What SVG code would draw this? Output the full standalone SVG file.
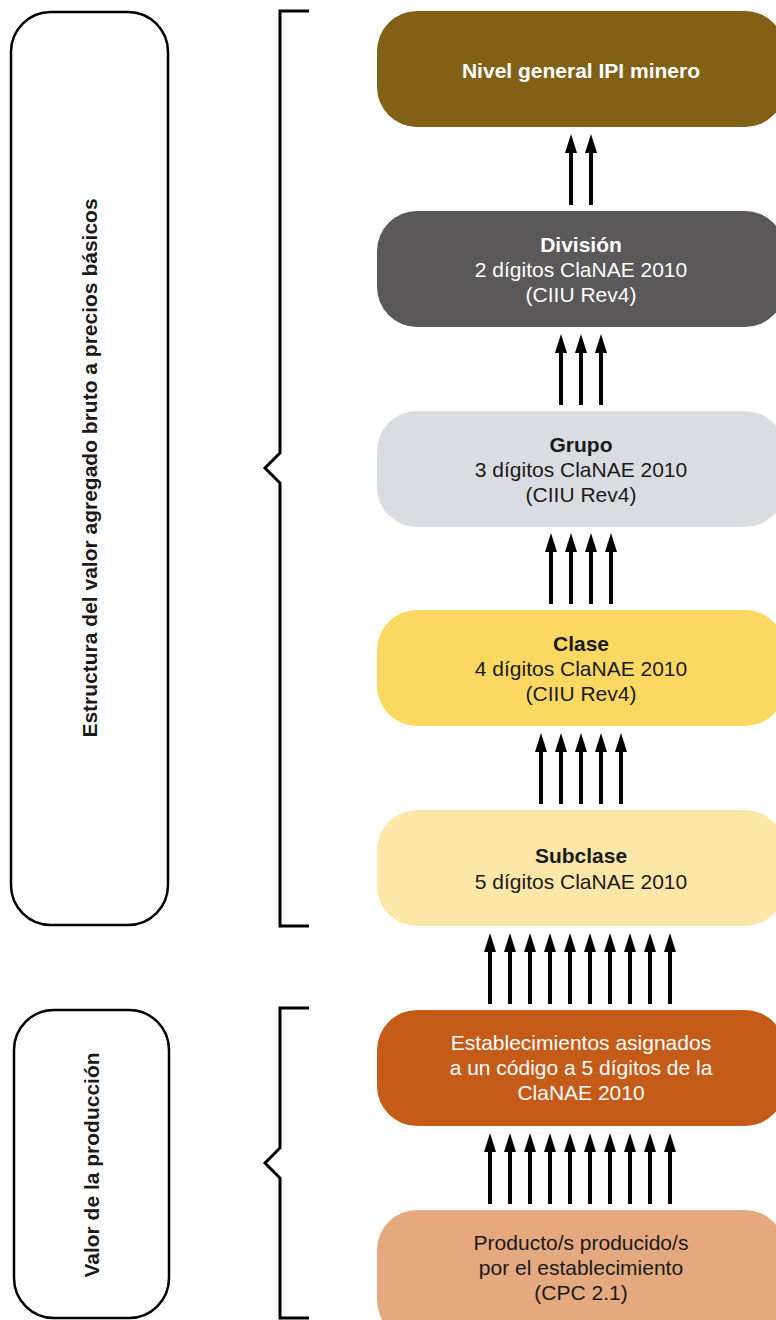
<svg xmlns="http://www.w3.org/2000/svg" width="776" height="1320" viewBox="0 0 776 1320">
<style>
text{font-family:"Liberation Sans",Arial,Helvetica,sans-serif;font-size:21px;text-anchor:middle}
.b{font-weight:bold}
.w{fill:#ffffff}
.k{fill:#1a1a1a}
.frame{fill:none;stroke:#000;stroke-width:2.5}
.br{fill:none;stroke:#000;stroke-width:3}
.ar{stroke:#000;stroke-width:4;marker-end:url(#head)}
</style>
<defs>
<marker id="head" markerUnits="userSpaceOnUse" markerWidth="19" markerHeight="12" refX="0" refY="6" orient="auto" viewBox="0 0 19 12">
<path d="M0,0 L19,6 L0,12 Z" fill="#000"/>
</marker>
</defs>
<rect width="776" height="1320" fill="#fff"/>

<g id="left-estructura">
<rect class="frame" x="11" y="12" width="157" height="913" rx="40"/>
<text class="b k" transform="translate(97,468) rotate(-90)">Estructura del valor agregado bruto a precios básicos</text>
</g>
<g id="left-valor">
<rect class="frame" x="14" y="1010" width="155" height="308" rx="40"/>
<text class="b k" transform="translate(99,1165) rotate(-90)">Valor de la producción</text>
</g>
<g id="brackets">
<path class="br" d="M309,11 H280 V453 L265,468 L280,483 V926 H309"/>
<path class="br" d="M309,1008 H280 V1148 L265,1163 L280,1178 V1318 H309"/>
</g>

<g id="nivel">
<rect x="377" y="11" width="408" height="116" rx="40" fill="#826117"/>
<text class="b w" x="581" y="78">Nivel general IPI minero</text>
</g>
<g id="division">
<rect x="377" y="211" width="408" height="116" rx="40" fill="#5a5859"/>
<text class="b w" x="581" y="252">División</text>
<text class="w" x="581" y="277">2 dígitos ClaNAE 2010</text>
<text class="w" x="581" y="302">(CIIU Rev4)</text>
</g>
<g id="grupo">
<rect x="377" y="411" width="408" height="116" rx="40" fill="#d9dde2"/>
<text class="b k" x="581" y="452">Grupo</text>
<text class="k" x="581" y="477">3 dígitos ClaNAE 2010</text>
<text class="k" x="581" y="502">(CIIU Rev4)</text>
</g>
<g id="clase">
<rect x="377" y="610" width="408" height="116" rx="40" fill="#fad862"/>
<text class="b k" x="581" y="651">Clase</text>
<text class="k" x="581" y="676">4 dígitos ClaNAE 2010</text>
<text class="k" x="581" y="701">(CIIU Rev4)</text>
</g>
<g id="subclase">
<rect x="377" y="810" width="408" height="116" rx="40" fill="#fde7a8"/>
<text class="b k" x="581" y="863">Subclase</text>
<text class="k" x="581" y="889">5 dígitos ClaNAE 2010</text>
</g>
<g id="establecimientos">
<rect x="377" y="1010" width="408" height="116" rx="40" fill="#c55b18"/>
<text class="w" x="581" y="1050">Establecimientos asignados</text>
<text class="w" x="581" y="1075">a un código a 5 dígitos de la</text>
<text class="w" x="581" y="1100">ClaNAE 2010</text>
</g>
<g id="producto">
<rect x="377" y="1210" width="408" height="130" rx="40" fill="#e4a97f"/>
<text class="k" x="581" y="1250">Producto/s producido/s</text>
<text class="k" x="581" y="1275">por el establecimiento</text>
<text class="k" x="581" y="1300">(CPC 2.1)</text>
</g>

<g id="connectors">
<line class="ar" x1="571" y1="205" x2="571" y2="153"/>
<line class="ar" x1="591" y1="205" x2="591" y2="153"/>

<line class="ar" x1="561" y1="405" x2="561" y2="353"/>
<line class="ar" x1="581" y1="405" x2="581" y2="353"/>
<line class="ar" x1="601" y1="405" x2="601" y2="353"/>

<line class="ar" x1="551" y1="604" x2="551" y2="552"/>
<line class="ar" x1="571" y1="604" x2="571" y2="552"/>
<line class="ar" x1="591" y1="604" x2="591" y2="552"/>
<line class="ar" x1="611" y1="604" x2="611" y2="552"/>

<line class="ar" x1="541" y1="804" x2="541" y2="752"/>
<line class="ar" x1="561" y1="804" x2="561" y2="752"/>
<line class="ar" x1="581" y1="804" x2="581" y2="752"/>
<line class="ar" x1="601" y1="804" x2="601" y2="752"/>
<line class="ar" x1="621" y1="804" x2="621" y2="752"/>

<line class="ar" x1="490" y1="1004" x2="490" y2="952"/>
<line class="ar" x1="510" y1="1004" x2="510" y2="952"/>
<line class="ar" x1="530" y1="1004" x2="530" y2="952"/>
<line class="ar" x1="550" y1="1004" x2="550" y2="952"/>
<line class="ar" x1="570" y1="1004" x2="570" y2="952"/>
<line class="ar" x1="590" y1="1004" x2="590" y2="952"/>
<line class="ar" x1="610" y1="1004" x2="610" y2="952"/>
<line class="ar" x1="630" y1="1004" x2="630" y2="952"/>
<line class="ar" x1="650" y1="1004" x2="650" y2="952"/>
<line class="ar" x1="670" y1="1004" x2="670" y2="952"/>

<line class="ar" x1="490" y1="1204" x2="490" y2="1152"/>
<line class="ar" x1="510" y1="1204" x2="510" y2="1152"/>
<line class="ar" x1="530" y1="1204" x2="530" y2="1152"/>
<line class="ar" x1="550" y1="1204" x2="550" y2="1152"/>
<line class="ar" x1="570" y1="1204" x2="570" y2="1152"/>
<line class="ar" x1="590" y1="1204" x2="590" y2="1152"/>
<line class="ar" x1="610" y1="1204" x2="610" y2="1152"/>
<line class="ar" x1="630" y1="1204" x2="630" y2="1152"/>
<line class="ar" x1="650" y1="1204" x2="650" y2="1152"/>
<line class="ar" x1="670" y1="1204" x2="670" y2="1152"/>
</g>
</svg>
